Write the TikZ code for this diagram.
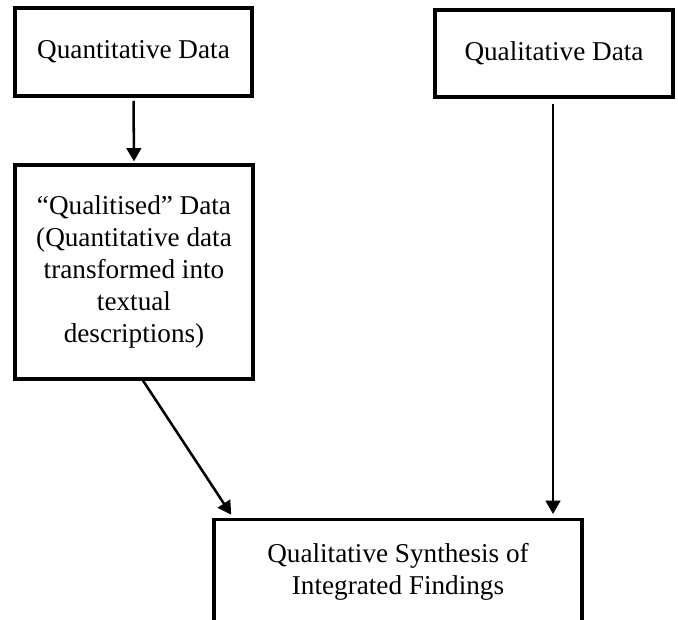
\documentclass[tikz,border=0pt]{standalone}
\usepackage{fontspec}
\setmainfont{Liberation Serif}
\usetikzlibrary{arrows.meta}
\tikzset{
  box/.style={draw=black, line width=2.4pt, rectangle, inner sep=0pt, align=center,
    font=\fontsize{20.4pt}{24pt}\selectfont},
  txt/.style={inner sep=0pt, align=center, font=\fontsize{20.4pt}{24.5pt}\selectfont},
  conn/.style={line width=1.9pt, -{Triangle[length=10pt,width=11pt]}}
}
\begin{document}
\begin{tikzpicture}[x=0.75pt,y=-0.75pt]
\useasboundingbox (0,0) rectangle (678,619);
\node[box, minimum width=177.75pt, minimum height=66pt] (q1) at (133.5,52) {\raisebox{-2pt}{Quantitative Data}};
\node[box, minimum width=178.5pt, minimum height=65.25pt] (q2) at (554,53.5) {\raisebox{-2pt}{Qualitative Data}};
\node[box, minimum width=178.5pt, minimum height=160.5pt] (q3) at (134,272)
  {“Qualitised” Data\\(Quantitative data\\transformed into\\textual\\descriptions)};
\node[box, minimum width=276pt, minimum height=112.5pt, anchor=north] (syn) at (398,518) {};
\node[txt] (syntext) at (398,572) {Qualitative Synthesis of\\Integrated Findings};
\draw[conn, shorten <=2.5pt, shorten >=1.5pt] (q1.south) -- (q3.north);
\draw[conn, shorten <=4pt, shorten >=3pt] ([xshift=-0.75pt]q2.south) -- ([xshift=-0.75pt]q2.south |- syn.north);
\draw[conn, shorten >=3pt] ([xshift=6.75pt]q3.south) -- ([xshift=15.75pt]syn.north west);
\end{tikzpicture}
\end{document}
